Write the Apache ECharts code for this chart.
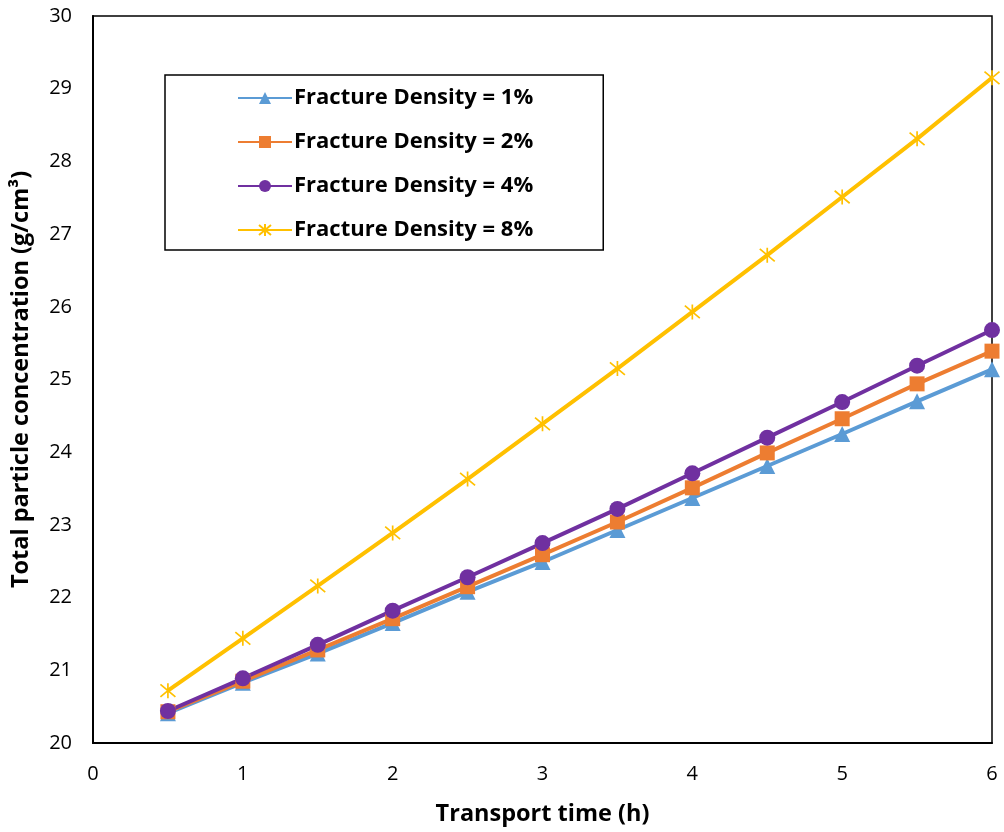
<!DOCTYPE html>
<html>
<head>
<meta charset="utf-8">
<script src="https://cdn.jsdelivr.net/npm/echarts@6/dist/echarts.min.js"></script>
<style>html,body{margin:0;padding:0;background:#fff}#c{width:1004px;height:832px}</style>
</head>
<body>
<div id="c"></div>
<script>
const times = [0.5, 1, 1.5, 2, 2.5, 3, 3.5, 4, 4.5, 5, 5.5, 6];
const fd1 = [20.41, 20.83, 21.23, 21.65, 22.08, 22.49, 22.93, 23.37, 23.81, 24.25, 24.70, 25.14];
const fd2 = [20.43, 20.85, 21.28, 21.71, 22.15, 22.59, 23.04, 23.51, 23.99, 24.46, 24.94, 25.39];
const fd4 = [20.44, 20.89, 21.35, 21.82, 22.28, 22.75, 23.22, 23.71, 24.20, 24.69, 25.19, 25.68];
const fd8 = [20.72, 21.44, 22.16, 22.89, 23.63, 24.39, 25.15, 25.93, 26.71, 27.51, 28.31, 29.15];
const seriesNames = ['Fracture Density = 1%', 'Fracture Density = 2%', 'Fracture Density = 4%', 'Fracture Density = 8%'];
const colors = ['#5B9BD5', '#ED7D31', '#7030A0', '#FFC000'];
const xTitle = 'Transport time (h)';
const yTitle = 'Total particle concentration (g/cm³)';

const font = '"Open Sans", Lato, "Liberation Sans", sans-serif';
const asterisk = 'path://M0,0L10,10M10,0L0,10M5,-1L5,11';
function mk(name, data, color, symbol, size, extra) {
  return Object.assign({
    name: name,
    type: 'line',
    data: times.map((t, i) => [t, data[i]]),
    symbol: symbol,
    symbolSize: size,
    lineStyle: { color: color, width: 4 },
    itemStyle: { color: color },
    emphasis: { disabled: true },
    animation: false
  }, extra || {});
}
const chart = echarts.init(document.getElementById('c'), null, { renderer: 'canvas' });
chart.setOption({
  backgroundColor: '#fff',
  animation: false,
  grid: { left: 93, right: 12, top: 16, bottom: 89, show: true, borderColor: '#000', borderWidth: 1.5, backgroundColor: 'transparent' },
  legend: {
    orient: 'vertical',
    left: 165, top: 75,
    padding: [12, 70, 9, 72],
    borderColor: '#000', borderWidth: 1.5,
    itemWidth: 54, itemHeight: 15, itemGap: 22,
    textStyle: { fontFamily: font, fontWeight: 'bold', fontSize: 22, color: '#000', padding: [0, 0, 0, -3] },
    data: seriesNames
  },
  xAxis: {
    type: 'value', min: 0, max: 6, interval: 1,
    name: xTitle, nameLocation: 'middle', nameGap: 59,
    nameTextStyle: { fontFamily: font, fontWeight: 'bold', fontSize: 23.5, color: '#000' },
    axisLine: { lineStyle: { color: '#000', width: 2 } },
    axisTick: { show: false },
    splitLine: { show: false },
    axisLabel: { fontFamily: font, fontSize: 20, color: '#000', margin: 21 }
  },
  yAxis: {
    type: 'value', min: 20, max: 30, interval: 1,
    name: yTitle, nameLocation: 'middle', nameGap: 60,
    nameTextStyle: { fontFamily: font, fontWeight: 'bold', fontSize: 23.5, color: '#000' },
    axisLine: { lineStyle: { color: '#000', width: 2 } },
    axisTick: { show: false },
    splitLine: { show: false },
    axisLabel: { fontFamily: font, fontSize: 20, color: '#000', margin: 21 }
  },
  series: [
    mk(seriesNames[0], fd1, colors[0], 'triangle', 16),
    mk(seriesNames[1], fd2, colors[1], 'rect', 15),
    mk(seriesNames[2], fd4, colors[2], 'circle', 16),
    mk(seriesNames[3], fd8, colors[3], asterisk, 15, { itemStyle: { color: 'transparent', borderColor: colors[3], borderWidth: 1.7 } })
  ]
});
</script>
</body>
</html>
